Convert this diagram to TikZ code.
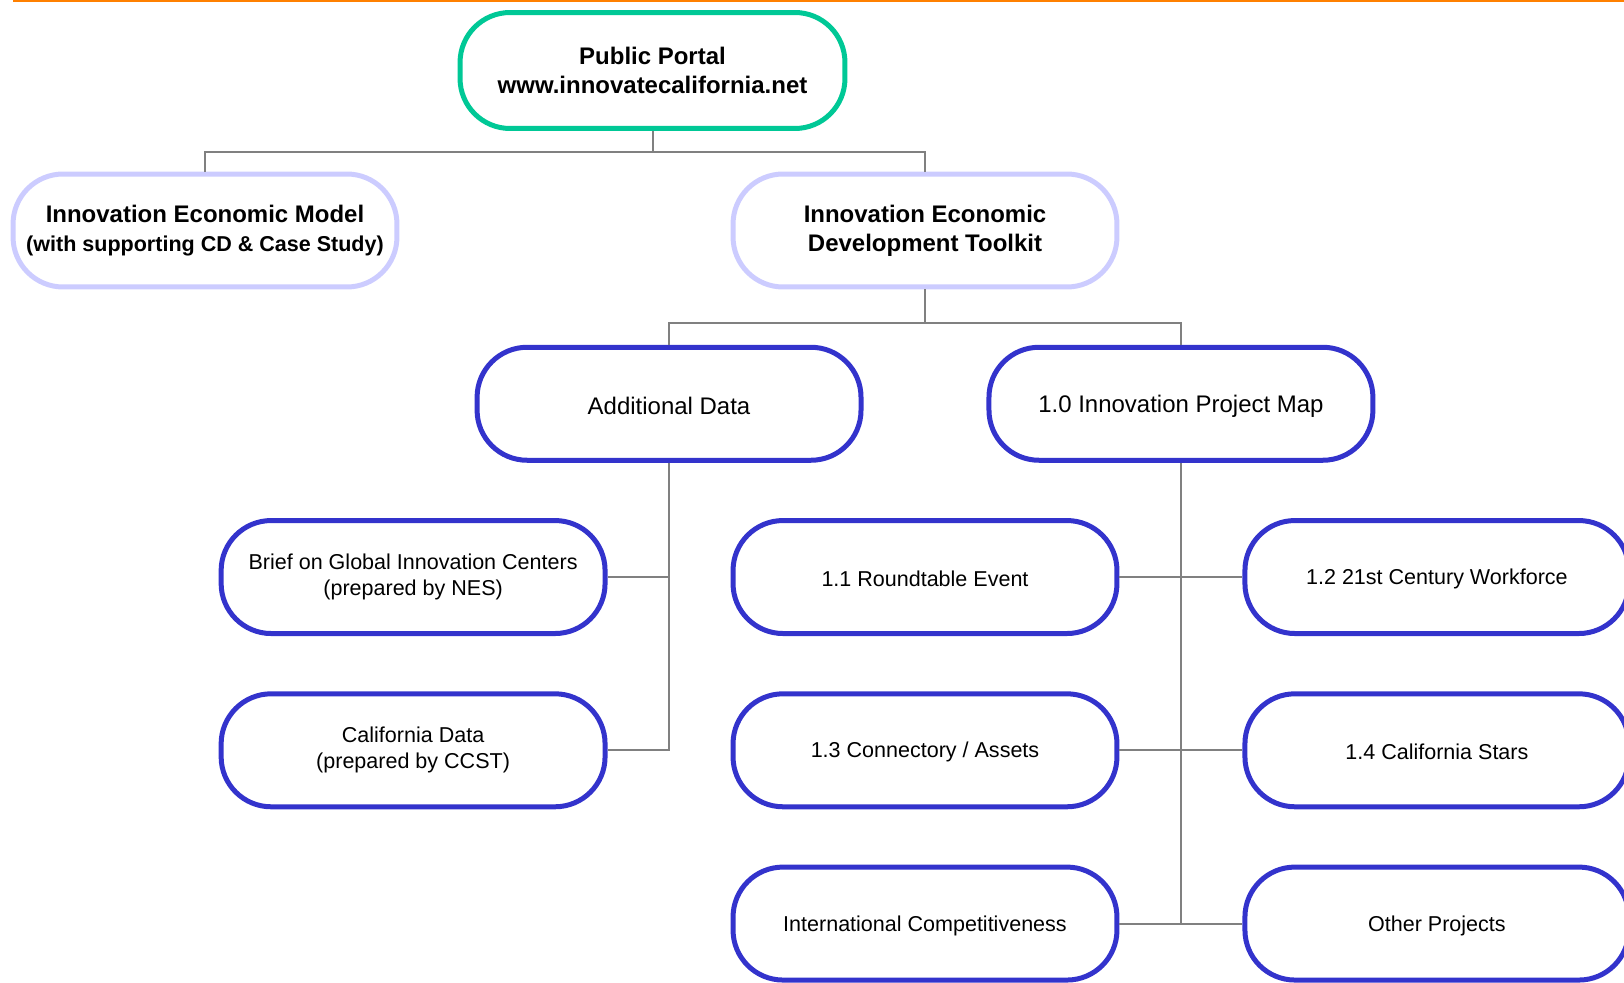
\documentclass[tikz,border=0pt]{standalone}
\usepackage{fontspec}
\setmainfont{Liberation Sans}
\usepackage{tikz}
\usetikzlibrary{positioning}

\definecolor{portalgreen}{RGB}{0,200,150}
\definecolor{lavender}{RGB}{204,204,255}
\definecolor{itemblue}{RGB}{51,51,204}
\definecolor{linkgray}{RGB}{128,128,128}
\definecolor{rulecolor}{RGB}{255,128,0}
\newcommand{\bigtxt}{\fontsize{13.65}{16.5}\selectfont}
\newcommand{\smalltxt}{\fontsize{12.25}{14.8}\selectfont}

\begin{document}
\begin{tikzpicture}
          [x=0.02cm, y=-0.02cm,
           pill/.style={rectangle,rounded corners=1cm,fill=white,line width=0.1cm,
                        align=center,inner sep=0pt,
                        minimum width=7.68cm,minimum height=2.26cm,
                        execute at begin node={\rule{0pt}{0.9em}}},
           portal/.style={pill,draw=portalgreen,minimum width=7.7cm,
                          minimum height=2.32cm,font=\bigtxt\bfseries},
           toplevel/.style={pill,draw=lavender,font=\bigtxt\bfseries},
           branch/.style={pill,draw=itemblue,font=\bigtxt},
           leaf/.style={pill,draw=itemblue,font=\smalltxt},
           link/.style={draw=linkgray,line width=0.04cm},
           node distance=3.466cm and 5.12cm,
           on grid
          ]
          \useasboundingbox (0,0) rectangle (1624,983);
          \draw[rulecolor,line width=0.04cm] (13,1) -- (1624,1);
          \node[portal] (portal) at (652.5,70.5) {Public Portal\\www.innovatecalifornia.net};
          \node[toplevel] (model) at (205,230.5) {Innovation Economic Model\\{\smalltxt (with supporting CD \& Case Study)}};
          \node[toplevel] (toolkit) at (925,230.5) {Innovation Economic\\Development Toolkit};
          \node[branch,below left=of toolkit] (adddata) {Additional Data};
          \node[branch,below right=of toolkit] (projmap) {1.0 Innovation Project Map};
          \node[leaf,below left=of adddata] (brief) {Brief on Global Innovation Centers\\(prepared by NES)};
          \node[leaf,below=of brief] (caldata) {California Data\\(prepared by CCST)};
          \node[leaf,below right=of adddata] (round) {1.1 Roundtable Event};
          \node[leaf,below=of round] (conn) {1.3 Connectory / Assets};
          \node[leaf,below=of conn] (intl) {International Competitiveness};
          \node[leaf,below right=of projmap] (work) {1.2 21st Century Workforce};
          \node[leaf,below=of work] (stars) {1.4 California Stars};
          \node[leaf,below=of stars] (other) {Other Projects};
          % tree links
          \draw[link] (portal.south) -- ++(0,21) -| (model.north);
          \draw[link] (portal.south) ++(0,21) -| (toolkit.north);
          \draw[link] (toolkit.south) -- ++(0,34) -| (adddata.north);
          \draw[link] (toolkit.south) ++(0,34) -| (projmap.north);
          \draw[link]
            (adddata.south) |- (brief.east)
            (adddata.south) |- (caldata.east);
          \draw[link]
            (projmap.south) |- (round.east)
            (projmap.south) |- (work.west)
            (projmap.south) |- (conn.east)
            (projmap.south) |- (stars.west)
            (projmap.south) |- (intl.east)
            (projmap.south) |- (other.west);
        \end{tikzpicture}
\end{document}
